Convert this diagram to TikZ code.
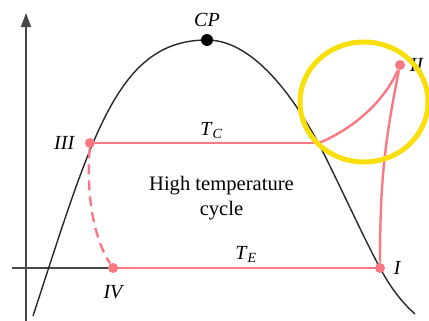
\documentclass[tikz,border=0pt]{standalone}
\usepackage{fontspec}
\setmainfont{Liberation Serif}
\usetikzlibrary{arrows.meta,positioning}

\definecolor{cyclepink}{RGB}{250,120,130}
\definecolor{markyellow}{RGB}{250,222,10}
\definecolor{domegray}{RGB}{40,40,40}

\begin{document}
\begin{tikzpicture}[x=0.5pt,y=-0.5pt,
  every node/.style={font=\fontsize{10}{12}\selectfont},
  dome/.style={draw=domegray,line width=0.7pt},
  axisline/.style={draw=domegray!85,line width=0.8pt},
  cycleline/.style={draw=cyclepink,line width=1.2pt},
  statedot/.style={circle,fill=cyclepink,inner sep=0pt,minimum size=5pt},
  statelbl/.style={font=\fontsize{10}{12}\selectfont\itshape,inner sep=1pt}]
  \useasboundingbox (0,0) rectangle (429,321);
  % axes
  \draw[axisline] (12,268) -- (380,268);
  \draw[axisline,-{Triangle[length=7pt,width=5pt]}] (26,321) -- (26,13);
  % saturation dome
  \draw[dome] (33,316) .. controls (92,136) and (117,40) .. (207,40)
    .. controls (260,40) and (305,115) .. (327,160)
    .. controls (349,205) and (365,240) .. (380,268)
    .. controls (393,292) and (404,304) .. (415,314);
  % states
  \node[statedot] (s1) at (380,268) {};
  \node[statedot] (s2) at (400,65) {};
  \node[statedot] (s3) at (90,143) {};
  \node[statedot] (s4) at (113,268) {};
  \coordinate (tcend) at (319,143);
  \node[circle,fill=black,inner sep=0pt,minimum size=6pt] (cp) at (207,40) {};
  % cycle
  \draw[cycleline] (s3) -- (tcend);
  \draw[cycleline] (tcend) .. controls (355,128) and (385,100) .. (s2);
  \draw[cycleline] (s2) .. controls (385,140) and (380,180) .. (s1);
  \draw[cycleline] (s4) -- (s1);
  \draw[cycleline,dash pattern=on 5pt off 3pt] (s3) .. controls (86,200) and (95,240) .. (s4);
  % labels
  \node[statelbl,above=2.5pt of cp] (cplbl) {CP};
  \node[statelbl,right=3pt of s1] (s1lbl) {I};
  \node[statelbl,right=1pt of s2] (s2lbl) {II};
  \node[statelbl,left=4pt of s3] (s3lbl) {III};
  \node[statelbl,below=5pt of s4] (s4lbl) {IV};
  \node[anchor=base west,inner sep=0pt] (tclbl) at (200,135) {\textit{T}\textsubscript{\textit{C}}};
  \node[anchor=base west,inner sep=0pt] (telbl) at (235,259) {\textit{T}\textsubscript{\textit{E}}};
  \node[align=center,font=\fontsize{10.3}{12.5}\selectfont] (cyclelbl) at (221.5,198) {High temperature\\cycle};
  % highlight
  \draw[markyellow,line width=2.5pt] (364,102) ellipse [x radius=32pt,y radius=30pt];
\end{tikzpicture}
\end{document}
